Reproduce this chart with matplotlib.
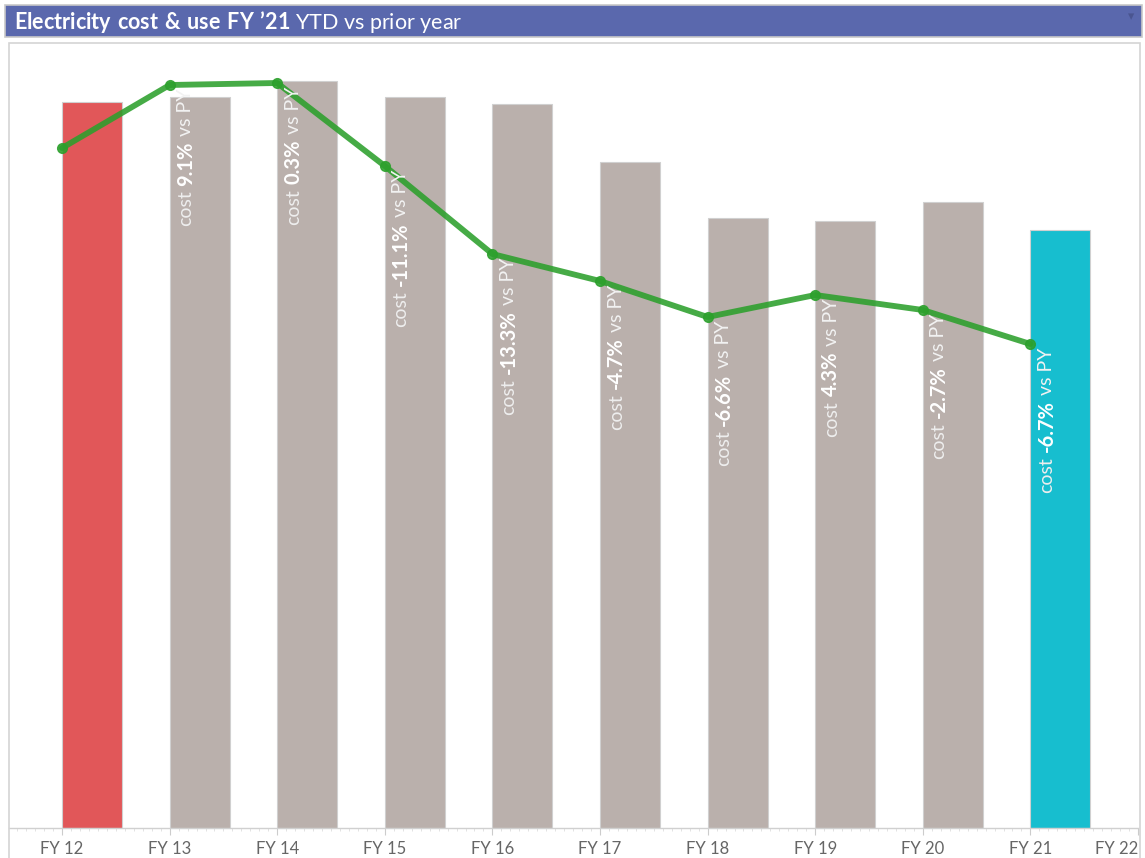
import matplotlib
matplotlib.use("Agg")
import matplotlib.pyplot as plt
from matplotlib.patches import Rectangle
from matplotlib.ticker import MultipleLocator
from matplotlib.transforms import offset_copy

plt.rcParams['font.family'] = ['Lato', 'DejaVu Sans']
plt.rcParams['mathtext.fontset'] = 'custom'
plt.rcParams['mathtext.rm'] = 'Lato'
plt.rcParams['mathtext.bf'] = 'Lato:bold'

years = ["FY 12", "FY 13", "FY 14", "FY 15", "FY 16", "FY 17", "FY 18", "FY 19", "FY 20", "FY 21", "FY 22"]
use_values = [726, 731, 747, 731, 724, 666, 610, 607, 626, 598]
cost_values = [680, 743, 745, 662, 574, 547, 511, 533, 518, 484]
cost_pct = [None, "9.1%", "0.3%", "-11.1%", "-13.3%", "-4.7%", "-6.6%", "4.3%", "-2.7%", "-6.7%"]
bar_colors = ["#e15759"] + ["#bab0ac"] * 8 + ["#17becf"]

W, H = 1145, 858
fig = plt.figure(figsize=(W / 100, H / 100), dpi=100)
renderer = fig.canvas.get_renderer()

# title bar
fig.patches.append(Rectangle((5 / W, 1 - 37 / H), 1137 / W, 32 / H, transform=fig.transFigure,
                             facecolor="#5a68ad", edgecolor="#c8c8c8", linewidth=1.2))
fig.text(14 / W, 1 - 22 / H, r"$\mathbf{Electricity\ cost\ &\ use\ FY\ ’21}$ YTD vs prior year",
         color="white", fontsize=15.5, va="center", ha="left")
fig.text(1131 / W, 1 - 17 / H, "▾", color="#4a5590", fontsize=9, ha="center", va="center",
         family=["DejaVu Sans"])
# panel frame
fig.patches.append(Rectangle((8.5 / W, -0.01), 1131.5 / W, (858 - 43) / H + 0.01, transform=fig.transFigure,
                             facecolor="none", edgecolor="#d4d4d4", linewidth=1.2))

ax = fig.add_axes([9 / W, (H - 828) / H, (1138 - 9) / W, (828 - 43) / H])
x = list(range(len(use_values)))
bar_w = 60 / 107.5
ax.bar(x, use_values, width=bar_w, align="edge", color=bar_colors, edgecolor="#d0d0d0", linewidth=0.8, zorder=2)
ax.plot(x, cost_values, color="#2ca02c", alpha=0.88, linewidth=4.2, marker="o", markersize=7, zorder=3,
        solid_capstyle="round")

FS = 14


def text_len(s, weight="normal", size=FS):
    t = fig.text(0, 0, s, fontsize=size, fontweight=weight)
    w = t.get_window_extent(renderer).width
    t.remove()
    return w


space = text_len("a a") - text_len("aa")

for i, p in enumerate(cost_pct):
    if p is None:
        continue
    pieces = [("cost", "normal", "#eeeeee", FS), (p, "bold", "#ffffff", FS + 0.5), ("vs PY", "normal", "#f2f2f2", FS)]
    lens = [text_len(s, w, fs) for s, w, c, fs in pieces]
    total = sum(lens) + 2 * space
    pos = -4 - total
    for (s, w, c, fs), L in zip(pieces, lens):
        tr = offset_copy(ax.transData, fig=fig, x=0, y=pos, units="dots")
        ax.text(i + 0.15, cost_values[i], s, transform=tr, rotation=90, rotation_mode="anchor",
                ha="left", va="center", color=c, fontsize=fs, fontweight=w, zorder=4)
        pos += L + space

ax.set_xlim(-0.493, 10.0)
ax.set_ylim(0, 785)
ax.set_yticks([])
ax.set_xticks(range(len(years)))
ax.set_xticklabels(years)
lbls = ax.get_xticklabels()
lbls[-1].set_horizontalalignment("right")
ax.xaxis.set_minor_locator(MultipleLocator(1 / 12))
ax.tick_params(axis="x", which="major", length=5, color="#cccccc", labelsize=12, labelcolor="#666666", pad=4)
ax.tick_params(axis="x", which="minor", length=2, color="#dddddd")
for s in ["top", "left", "right"]:
    ax.spines[s].set_visible(False)
ax.spines["bottom"].set_color("#d0d0d0")
ax.spines["bottom"].set_linewidth(1.0)

fig.savefig("out.png", dpi=100)
